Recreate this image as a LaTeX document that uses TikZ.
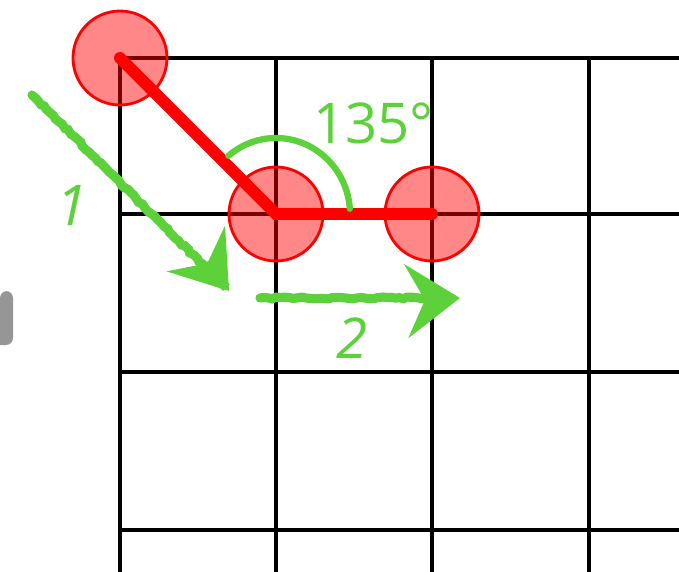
\documentclass[tikz,border=0pt]{standalone}
\usepackage{fontspec}
\setmainfont{Open Sans}
\usetikzlibrary{arrows.meta,calc,positioning,decorations.pathmorphing}
\definecolor{chalk}{HTML}{5CD13A}
\definecolor{joint}{HTML}{FF0000}
\definecolor{fragment}{HTML}{969696}
\tikzset{
  gridline/.style={line width=2.8pt,black},
  jointnode/.style={circle,draw=joint,line width=2pt,fill=joint,fill opacity=0.47,
    draw opacity=1,minimum size=2.35cm,inner sep=0pt},
  limb/.style={line width=8.5pt,joint,line cap=round,line join=miter},
  chalkline/.style={line width=6.5pt,chalk,line cap=round,
    decorate,decoration={random steps,segment length=3pt,amplitude=0.7pt}},
  chalkarrow/.style={chalkline,-{Stealth[length=38pt,width=52pt,inset=13pt]}},
  hand/.style={chalk,font=\fontsize{40}{40}\selectfont\itshape}
}

\begin{document}
\begin{tikzpicture}[x=0.025cm,y=-0.025cm]
  \useasboundingbox (0,0) rectangle (679,572);
  % grid
  \foreach \gx in {120,276,432,589}
    \draw[gridline] (\gx,58) -- (\gx,572);
  \foreach \gy in {58,214,372,530}
    \draw[gridline] (120,\gy) -- (679,\gy);
  % cut-off letter at the left edge
  \fill[fragment,rounded corners=5pt] (0,345) -- (0,291) -- (13,291) -- (13,345) [sharp corners] -- cycle;
  % joints and limbs
  \node[jointnode] (j1) at (120,58) {};
  \node[jointnode] (j2) at (276,214) {};
  \node[jointnode] (j3) at (432,214) {};
  \draw[limb] (j1.center) -- (j2.center) -- (j3.center);
  % angle
  \draw[chalkline,line width=4.5pt] plot[domain=4:130,samples=40] ({276+74*cos(\x)},{214-76*sin(\x)});
  \node[chalk,anchor=base west,font=\fontsize{40}{40}\selectfont,inner sep=0pt] (ang) at (313,143) {135°};
  % moves
  \coordinate (m1s) at (32,95);
  \coordinate (m1e) at (229,291);
  \coordinate (m2s) at (260,298);
  \coordinate (m2e) at (460,298);
  \draw[chalkarrow] (m1s) -- (m1e);
  \draw[chalkarrow] (m2s) -- (m2e);
  \node[hand] (n1) at (72,205) {1};
  \node[hand] (n2) at (352,338) {2};
\end{tikzpicture}
\end{document}
